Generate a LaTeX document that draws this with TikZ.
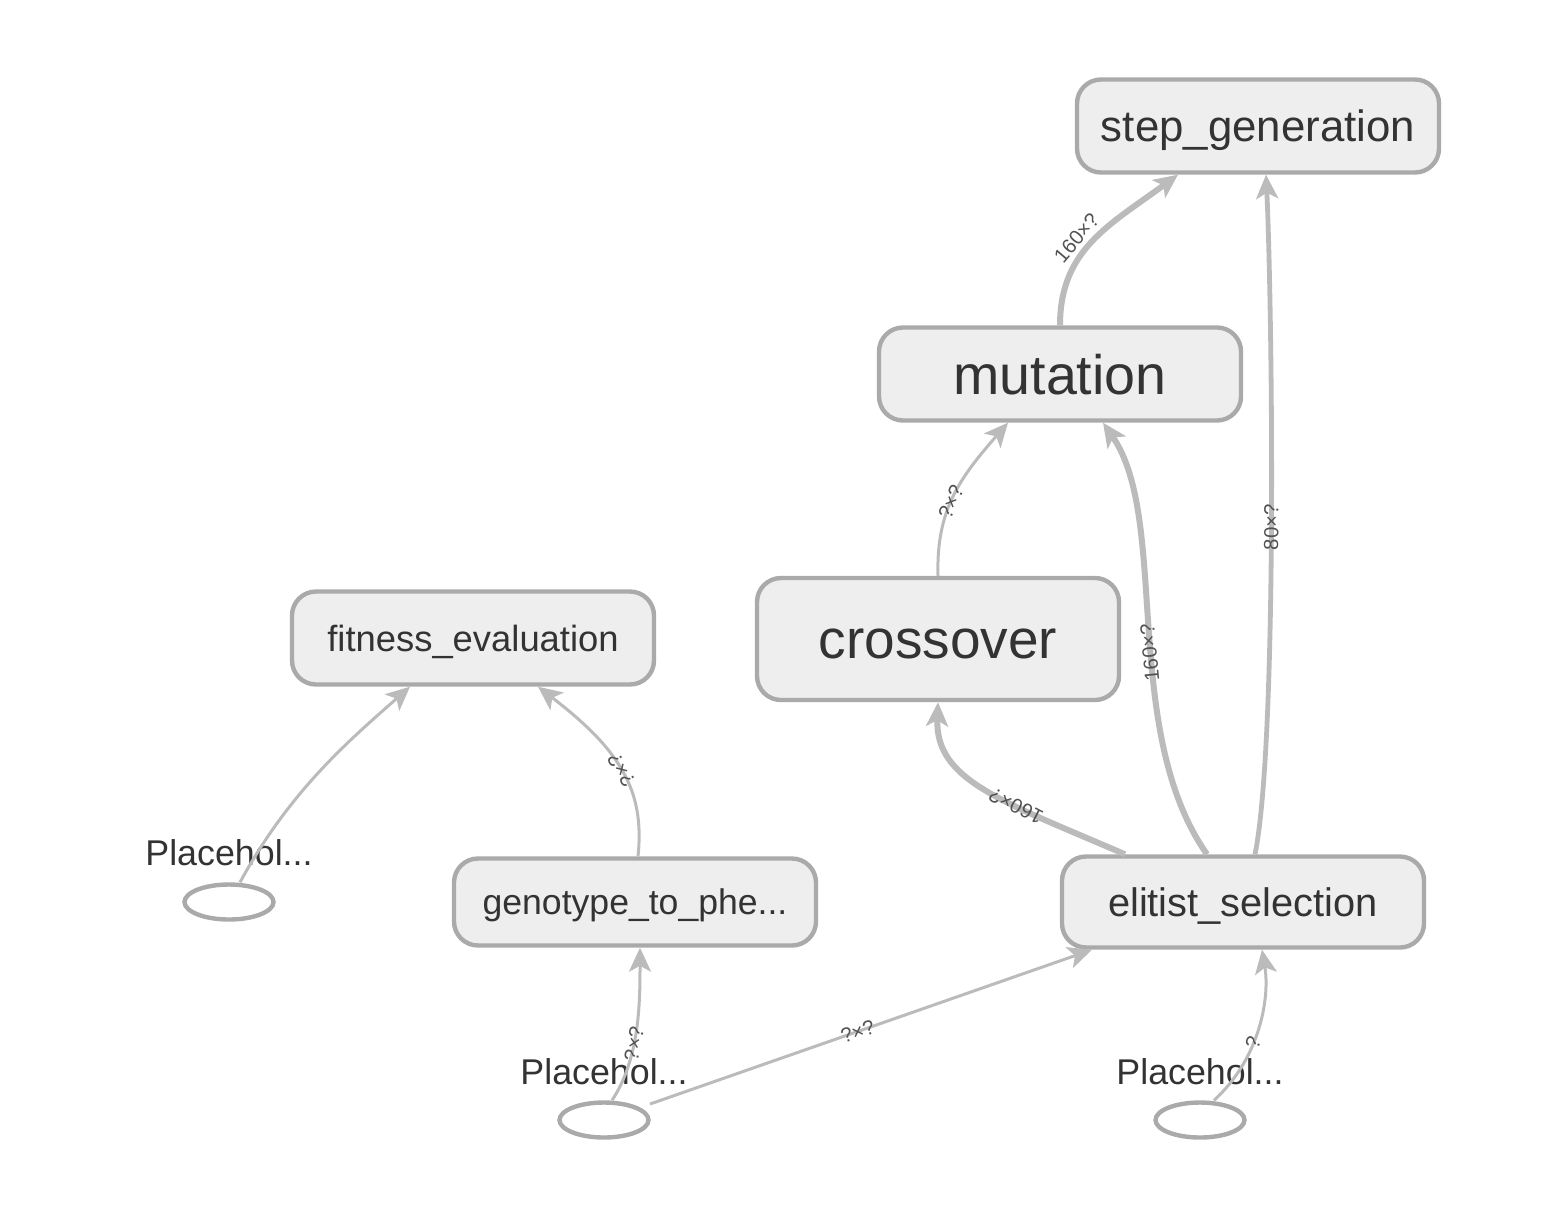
\documentclass[tikz,border=0pt]{standalone}
\usepackage{fontspec}
\setmainfont{Liberation Sans}
\usetikzlibrary{arrows.meta,shapes.geometric,calc}
\definecolor{nodefill}{HTML}{EEEEEE}
\definecolor{nodeline}{HTML}{AAAAAA}
\definecolor{edgecol}{HTML}{BBBBBB}
\definecolor{txt}{HTML}{333333}
\tikzset{
  opbox/.style={draw=nodeline, fill=nodefill, line width=2.2pt, rounded corners=12pt,
    minimum width=181pt, minimum height=46.5pt, inner sep=0pt, text=txt,
    text depth=0pt},
  phold/.style={ellipse, draw=nodeline, fill=white, line width=2.2pt,
    minimum width=44.5pt, minimum height=17.5pt, inner sep=0pt},
  phlabel/.style={text=txt, inner sep=0pt, font=\fontsize{17.9}{20}\selectfont},
  edge/.style={draw=edgecol, line width=1.5pt,
    -{Stealth[length=12pt, width=11pt, inset=3pt]}},
  thickedge/.style={edge, line width=3pt},
  midedge/.style={edge, line width=2.4pt},
  elab/.style={sloped, allow upside down, text=txt!85, inner sep=1pt,
    font=\fontsize{10.2}{11}\selectfont},
}
\begin{document}
\begin{tikzpicture}[x=0.5pt, y=-0.5pt]
\useasboundingbox (0,0) rectangle (1562,1216);

% nodes
\node[opbox, text height=15.8pt, font=\fontsize{21.9}{26}\selectfont] (stepgen) at (1258,126) {step\_generation};
\node[opbox, text height=20pt, font=\fontsize{27.8}{32}\selectfont] (mutation) at (1060,374) {mutation};
\node[opbox, text height=19.8pt, minimum height=61pt, font=\fontsize{27.5}{32}\selectfont] (crossover) at (938,639) {crossover};
\node[opbox, text height=13.1pt, font=\fontsize{18.2}{22}\selectfont] (fitness) at (473,638) {fitness\_evaluation};
\node[opbox, text height=12.8pt, minimum height=43.5pt, font=\fontsize{17.8}{22}\selectfont] (genotype) at (635,902) {genotype\_to\_phe...};
\node[opbox, text height=14.3pt, minimum height=45.5pt, font=\fontsize{19.9}{24}\selectfont] (elitist) at (1243,902) {elitist\_selection};

\node[phold] (ph1) at (229,902) {};
\node[phold] (ph2) at (604,1120) {};
\node[phold] (ph3) at (1200,1120) {};
\node[phlabel] (ph1lab) at (229,853) {Placehol...};
\node[phlabel] (ph2lab) at (604,1072) {Placehol...};
\node[phlabel] (ph3lab) at (1200,1072) {Placehol...};

% edges
\path[thickedge] (mutation.north) .. controls ($(mutation.north)+(0,-76)$) and ($(stepgen.south)+(-148,50)$) .. ($(stepgen.south)+(-80,0)$)
  node[elab, pos=0.45, above=1pt] {160×?};
\path[midedge] ($(elitist.north)+(12,0)$) .. controls ($(elitist.north)+(35,-114)$) and ($(stepgen.south)+(14,125)$) .. ($(stepgen.south)+(8,0)$)
  node[elab, pos=0.49] {80×?};
\path[edge] (crossover.north) .. controls ($(crossover.north)+(-2,-66)$) and ($(mutation.south)+(-100,55)$) .. ($(mutation.south)+(-52,0)$)
  node[elab, pos=0.45] {?×?};
\path[thickedge] ($(elitist.north)+(-36,0)$) .. controls ($(elitist.north)+(-123,-124)$) and ($(mutation.south)+(110,97)$) .. ($(mutation.south)+(43,0)$)
  node[elab, pos=0.45] {160×?};
\path[thickedge] ($(elitist.north)+(-118,0)$) .. controls ($(elitist.north)+(-243,-54)$) and ($(crossover.south)+(-3,78)$) .. (crossover.south)
  node[elab, pos=0.35] {160×?};
\path[edge] ($(ph1.north)+(11,0)$) .. controls ($(ph1.north)+(61,-92)$) and ($(fitness.south)+(-123,53)$) .. ($(fitness.south)+(-63,0)$);
\path[edge] ($(genotype.north)+(3,0)$) .. controls ($(genotype.north)+(10,-66)$) and ($(fitness.south)+(147,63)$) .. ($(fitness.south)+(65,0)$)
  node[elab, pos=0.5] {?×?};
\path[edge] ($(ph2.north)+(8,0)$) .. controls ($(ph2.north)+(36,-42)$) and ($(genotype.south)+(5,53)$) .. ($(genotype.south)+(5,0)$)
  node[elab, pos=0.4] {?×?};
\path[edge] ($(ph2.center)+(46,-16)$) -- ($(elitist.south)+(-151,0)$)
  node[elab, pos=0.47] {?×?};
\path[edge] ($(ph3.north)+(14,0)$) .. controls ($(ph3.north)+(60,-42)$) and ($(elitist.south)+(27,48)$) .. ($(elitist.south)+(19,0)$)
  node[elab, pos=0.4] {?};
\end{tikzpicture}
\end{document}
